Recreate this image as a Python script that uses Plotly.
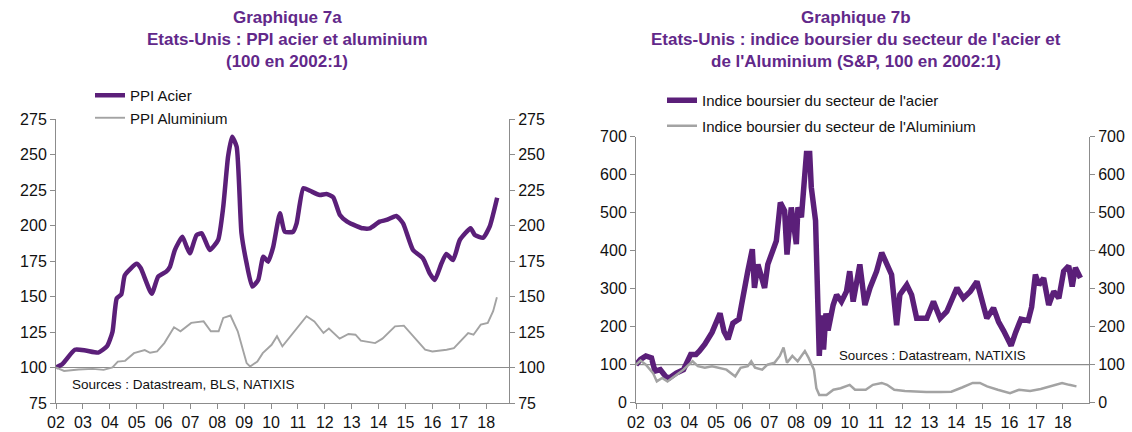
import plotly.graph_objects as go

# ---------------- data ----------------
tick_years = list(range(2002, 2019))
tick_labels = [f"{y % 100:02d}" for y in tick_years]

# Graphique 7a : PPI (100 en 2002:1)
ppi_acier_t = [2002.0, 2002.24, 2002.7, 2003.1, 2003.57, 2003.9, 2004.1, 2004.26, 2004.43, 2004.56,
               2005.0, 2005.15, 2005.56, 2005.8, 2006.1, 2006.24, 2006.42, 2006.7, 2006.86, 2006.98,
               2007.23, 2007.42, 2007.72, 2008.03, 2008.22, 2008.4, 2008.55, 2008.72, 2008.9, 2009.09,
               2009.3, 2009.52, 2009.71, 2009.89, 2010.08, 2010.33, 2010.51, 2010.82, 2010.95, 2011.2,
               2011.44, 2011.81, 2012.06, 2012.31, 2012.56, 2012.83, 2013.18, 2013.42, 2013.67, 2014.04,
               2014.29, 2014.66, 2014.91, 2015.28, 2015.65, 2015.9, 2016.09, 2016.34, 2016.52, 2016.77,
               2017.02, 2017.42, 2017.58, 2017.89, 2018.13, 2018.41]
ppi_acier_v = [100, 102.5, 112.5, 112, 110.5, 115, 125, 148.7, 151.5, 165,
               173, 170, 152, 164, 167.5, 171, 182.7, 192, 185, 180.4,
               193.3, 194.5, 182.7, 189.8, 213, 248.5, 262.5, 255.5, 194.5, 173.4,
               157, 161.6, 178, 174.5, 185, 208.6, 195.6, 195.6, 201.5, 226.2,
               224.5, 221.5, 222.2, 219.9, 207.4, 202.7, 199.6, 198, 198, 202.7,
               203.9, 206.7, 201.5, 182.7, 176.9, 166.3, 161.6, 173.4, 180, 175.7,
               189.8, 198, 193.3, 191.4, 199.2, 219.6]

ppi_alu_t = [2002.0, 2002.3, 2002.84, 2003.37, 2003.77, 2004.1, 2004.3, 2004.57, 2004.9, 2005.3,
             2005.5, 2005.76, 2006.03, 2006.39, 2006.63, 2007.03, 2007.49, 2007.76, 2008.05, 2008.22,
             2008.49, 2008.76, 2009.09, 2009.22, 2009.49, 2009.69, 2010.02, 2010.22, 2010.42, 2010.82,
             2011.32, 2011.61, 2011.95, 2012.15, 2012.55, 2012.88, 2013.14, 2013.34, 2013.87, 2014.14,
             2014.61, 2014.94, 2015.34, 2015.73, 2016.0, 2016.53, 2016.8, 2017.33, 2017.53, 2017.8,
             2018.06, 2018.26, 2018.4]
ppi_alu_v = [100, 97.6, 98.6, 99, 98.3, 100, 104.2, 104.7, 110.1, 112.3,
             110.4, 111.3, 117.2, 128.3, 125.5, 131.4, 132.5, 125.5, 125.5, 134.9,
             136.6, 125.5, 103.1, 100.7, 104.2, 110.1, 116, 122, 114.9, 124.3,
             136.1, 132.5, 124.3, 127.4, 120.3, 123.6, 123.1, 118.9, 117.2, 120.3,
             129, 129.5, 120.8, 112.5, 111.3, 112.5, 113.7, 124.3, 123.1, 130.2,
             131.4, 139.6, 149.5]

# Graphique 7b : indices boursiers S&P (100 en 2002:1)
sp_acier_t = [2002.0, 2002.17, 2002.37, 2002.58, 2002.71, 2002.91, 2003.11, 2003.25, 2003.51, 2003.78,
              2004.05, 2004.25, 2004.38, 2004.58, 2004.85, 2005.15, 2005.3, 2005.45, 2005.63, 2005.86,
              2005.95, 2006.05, 2006.19, 2006.36, 2006.44, 2006.57, 2006.7, 2006.82, 2006.94, 2007.07,
              2007.26, 2007.41, 2007.57, 2007.66, 2007.82, 2008.01, 2008.07, 2008.2, 2008.26, 2008.39,
              2008.51, 2008.57, 2008.73, 2008.79, 2008.82, 2008.87, 2008.95, 2009.03, 2009.12, 2009.2,
              2009.39, 2009.52, 2009.7, 2009.89, 2010.01, 2010.14, 2010.39, 2010.58, 2010.77, 2011.02,
              2011.21, 2011.4, 2011.58, 2011.77, 2011.89, 2012.15, 2012.33, 2012.52, 2012.9, 2013.15,
              2013.4, 2013.65, 2014.03, 2014.27, 2014.53, 2014.78, 2014.97, 2015.15, 2015.4, 2015.59,
              2015.78, 2016.06, 2016.23, 2016.43, 2016.7, 2016.83, 2016.97, 2017.1, 2017.28, 2017.47,
              2017.66, 2017.85, 2018.03, 2018.22, 2018.35, 2018.47, 2018.66]
sp_acier_v = [100, 114, 123, 118, 83, 87, 69, 65, 78, 87,
              127, 127, 136, 154, 185, 235, 187, 167, 209, 220,
              255, 300, 346, 404, 302, 364, 328, 302, 364, 390,
              426, 527, 505, 390, 514, 417, 514, 488, 550, 656,
              656, 567, 479, 346, 204, 123, 230, 140, 235, 190,
              257, 284, 266, 293, 346, 266, 364, 257, 302, 346,
              395, 364, 337, 204, 284, 310, 284, 222, 222, 266,
              222, 240, 302, 275, 293, 319, 266, 222, 249, 213,
              189, 150, 185, 220, 216, 252, 337, 310, 328, 257,
              293, 275, 346, 360, 306, 355, 328]

sp_alu_t = [2002.0, 2002.17, 2002.37, 2002.64, 2002.78, 2002.98, 2003.18, 2003.45, 2003.78, 2003.98,
            2004.12, 2004.32, 2004.58, 2004.85, 2005.12, 2005.39, 2005.72, 2005.92, 2006.19, 2006.32,
            2006.46, 2006.73, 2006.93, 2007.19, 2007.39, 2007.53, 2007.66, 2007.86, 2008.06, 2008.33,
            2008.47, 2008.67, 2008.76, 2008.87, 2009.14, 2009.4, 2009.67, 2010.01, 2010.21, 2010.61,
            2010.88, 2011.21, 2011.41, 2011.68, 2012.08, 2012.48, 2012.88, 2013.42, 2013.82, 2014.22,
            2014.62, 2014.89, 2015.16, 2015.56, 2016.02, 2016.36, 2016.77, 2017.17, 2017.57, 2017.97,
            2018.24, 2018.51]
sp_alu_v = [100, 111, 100, 78, 56, 65, 56, 69, 87, 100,
            109, 96, 92, 96, 92, 87, 69, 92, 96, 109,
            92, 87, 100, 105, 123, 145, 105, 123, 109, 136,
            118, 87, 38, 20, 20, 34, 38, 47, 34, 34,
            47, 52, 47, 34, 31, 29, 28, 28, 29, 40,
            52, 52, 43, 34, 25, 34, 31, 36, 43, 52,
            47, 43]

# ---------------- style ----------------
W, H = 1132, 432
PURPLE = "#5b1f79"
TITLE_C = "#62288a"
GREY = "#a3a3a3"
AXIS_C = "#8c8c8c"
FONT = "Liberation Sans, Arial, sans-serif"


def px_x(p):
    return p / W


def px_y(p):
    return 1 - p / H


fig = go.Figure()

# left chart
fig.add_trace(go.Scatter(x=ppi_acier_t, y=ppi_acier_v, name="PPI Acier", mode="lines",
                         line=dict(color=PURPLE, width=4.5, shape="spline", smoothing=0.5),
                         xaxis="x", yaxis="y", legend="legend", legendgroup="a1"))
fig.add_trace(go.Scatter(x=ppi_alu_t, y=ppi_alu_v, name="PPI Aluminium", mode="lines",
                         line=dict(color=GREY, width=1.9),
                         xaxis="x", yaxis="y", legend="legend", legendgroup="a2"))
fig.add_trace(go.Scatter(x=[], y=[], xaxis="x", yaxis="y3", showlegend=False, hoverinfo="skip"))

# right chart
fig.add_trace(go.Scatter(x=sp_acier_t, y=sp_acier_v, name="Indice boursier du secteur de l'acier",
                         mode="lines", line=dict(color=PURPLE, width=5.5),
                         xaxis="x2", yaxis="y2", legend="legend2", legendgroup="b1"))
fig.add_trace(go.Scatter(x=sp_alu_t, y=sp_alu_v, name="Indice boursier du secteur de l'Aluminium",
                         mode="lines", line=dict(color=GREY, width=2.5),
                         xaxis="x2", yaxis="y2", legend="legend2", legendgroup="b2"))
fig.add_trace(go.Scatter(x=[], y=[], xaxis="x2", yaxis="y4", showlegend=False, hoverinfo="skip"))

common_x = dict(tickmode="array", tickvals=tick_years, ticktext=tick_labels,
                showline=True, linecolor=AXIS_C, linewidth=1, ticks="outside", ticklen=5,
                tickcolor=AXIS_C, showgrid=False, zeroline=False, automargin=False,
                tickfont=dict(family=FONT, size=16, color="#111"))
common_y = dict(showline=True, linecolor=AXIS_C, linewidth=1, ticks="outside", ticklen=5,
                tickcolor=AXIS_C, showgrid=False, zeroline=False, automargin=False,
                tickfont=dict(family=FONT, size=16, color="#111"))

ld_x = [px_x(56), px_x(509)]
rd_x = [px_x(636), px_x(1089)]
ld_y = [px_y(403), px_y(119)]
rd_y = [px_y(402.7), px_y(136.7)]

fig.update_layout(
    width=W, height=H,
    margin=dict(l=0, r=0, t=0, b=0, autoexpand=False),
    paper_bgcolor="white", plot_bgcolor="white",
    font=dict(family=FONT, color="#111"),
    xaxis=dict(domain=ld_x, range=[2002, 2018.85], anchor="y", **common_x),
    yaxis=dict(domain=ld_y, range=[75, 275], dtick=25, tick0=75, anchor="x", side="left", **common_y),
    yaxis3=dict(range=[75, 275], dtick=25, tick0=75, anchor="x", overlaying="y", side="right", **common_y),
    xaxis2=dict(domain=rd_x, range=[2002, 2018.98], anchor="y2", **common_x),
    yaxis2=dict(domain=rd_y, range=[0, 700], dtick=100, anchor="x2", side="left", **common_y),
    yaxis4=dict(range=[0, 700], dtick=100, anchor="x2", overlaying="y2", side="right", **common_y),
    legend=dict(x=px_x(90), y=px_y(79), xanchor="left", yanchor="top",
                font=dict(family=FONT, size=15, color="#111"), bgcolor="rgba(0,0,0,0)",
                traceorder="grouped", tracegroupgap=0, itemwidth=30),
    legend2=dict(x=px_x(662), y=px_y(84), xanchor="left", yanchor="top",
                 font=dict(family=FONT, size=15, color="#111"), bgcolor="rgba(0,0,0,0)",
                 traceorder="grouped", tracegroupgap=3, itemwidth=30),
    hovermode=False,
)

# reference lines at 100
fig.add_shape(type="line", xref="x domain", yref="y", x0=0, x1=1, y0=100, y1=100,
              line=dict(color=AXIS_C, width=1.2), layer="below")
fig.add_shape(type="line", xref="x2 domain", yref="y2", x0=0, x1=1, y0=100, y1=100,
              line=dict(color=AXIS_C, width=1.2), layer="below")

# titles
titles = [
    (287, ["Graphique 7a", "Etats-Unis : PPI acier et aluminium", "(100 en 2002:1)"]),
    (856, ["Graphique 7b", "Etats-Unis : indice boursier du secteur de l'acier et",
           "de l'Aluminium (S&P, 100 en 2002:1)"]),
]
for cx, lines in titles:
    for i, t in enumerate(lines):
        fig.add_annotation(text=f"<b>{t}</b>", x=px_x(cx), y=px_y(18 + 22 * i), xref="paper", yref="paper",
                           xanchor="center", yanchor="middle", showarrow=False,
                           font=dict(family=FONT, size=17, color=TITLE_C))

# sources
fig.add_annotation(text="Sources : Datastream, BLS, NATIXIS", x=px_x(70), y=px_y(384),
                   xref="paper", yref="paper", xanchor="left", yanchor="middle", showarrow=False,
                   font=dict(family=FONT, size=13.5, color="#111"))
fig.add_annotation(text="Sources : Datastream, NATIXIS", x=px_x(837), y=px_y(355),
                   xref="paper", yref="paper", xanchor="left", yanchor="middle", showarrow=False,
                   font=dict(family=FONT, size=13.3, color="#111"))

fig.write_html("out.html", config={"displayModeBar": False},
               post_script="document.body.style.margin='0px';")
